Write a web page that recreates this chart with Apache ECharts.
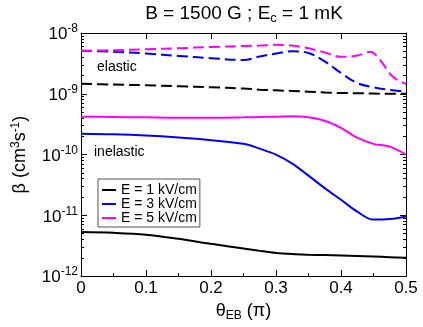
<!DOCTYPE html>
<html>
<head>
<meta charset="UTF-8">
<title>beta vs theta</title>
<script src="https://cdn.jsdelivr.net/npm/echarts@6/dist/echarts.min.js"></script>
<style>
  html, body { margin: 0; padding: 0; background: #fff; }
  #main { width: 423px; height: 327px; }
</style>
</head>
<body>
<div id="main"></div>
<script>
// theta_EB in units of pi
var theta = [0, 0.05, 0.1, 0.15, 0.2, 0.25, 0.275, 0.3, 0.325, 0.35, 0.375, 0.4, 0.425, 0.45, 0.475, 0.5];
var thetaEl5 = [0, 0.05, 0.1, 0.15, 0.2, 0.25, 0.275, 0.3, 0.325, 0.35, 0.375, 0.4, 0.425, 0.445, 0.46, 0.48, 0.5];

// elastic (dashed)
var elastic1 = [1.46e-9, 1.42e-9, 1.38e-9, 1.33e-9, 1.28e-9, 1.22e-9, 1.17e-9, 1.14e-9, 1.11e-9, 1.08e-9, 1.05e-9, 1.03e-9, 1.02e-9, 1.01e-9, 1.0e-9, 1.0e-9];
var elastic3 = [5.1e-9, 4.9e-9, 4.6e-9, 4.2e-9, 3.85e-9, 3.6e-9, 4.1e-9, 4.6e-9, 5.0e-9, 4.7e-9, 3.4e-9, 2.2e-9, 1.5e-9, 1.28e-9, 1.16e-9, 1.08e-9];
var elastic5 = [5.1e-9, 5.2e-9, 5.4e-9, 5.6e-9, 5.9e-9, 6.1e-9, 6.2e-9, 6.4e-9, 6.2e-9, 5.6e-9, 4.8e-9, 4.05e-9, 4.25e-9, 4.9e-9, 3.6e-9, 1.9e-9, 1.45e-9];

// inelastic (solid)
var inelastic1 = [5.3e-12, 5.15e-12, 4.8e-12, 4.1e-12, 3.4e-12, 2.85e-12, 2.6e-12, 2.4e-12, 2.3e-12, 2.25e-12, 2.22e-12, 2.18e-12, 2.14e-12, 2.1e-12, 2.05e-12, 2.0e-12];
var inelastic3 = [2.2e-10, 2.15e-10, 2.05e-10, 1.9e-10, 1.72e-10, 1.5e-10, 1.25e-10, 1.0e-10, 7.1e-11, 4.5e-11, 2.8e-11, 1.8e-11, 1.15e-11, 8.5e-12, 8.7e-12, 9.6e-12];
var inelastic5 = [4.2e-10, 4.15e-10, 4.1e-10, 4.05e-10, 4.05e-10, 4.1e-10, 4.15e-10, 4.2e-10, 4.25e-10, 4.1e-10, 3.6e-10, 2.75e-10, 1.9e-10, 1.5e-10, 1.35e-10, 1.0e-10];

var legendNames = ['E = 1 kV/cm', 'E = 3 kV/cm', 'E = 5 kV/cm'];
var colors = ['#000000', '#0000ff', '#ff00ff'];

function pairs(xs, ys) {
  var out = [];
  for (var i = 0; i < ys.length; i++) out.push([xs[i], ys[i]]);
  return out;
}

// minor ticks 2..9 inside each decade
var minorVals = [];
for (var d = -12; d < -8; d++) {
  for (var k = 2; k < 10; k++) minorVals.push(k * Math.pow(10, d));
}

var font = 'Liberation Sans, Arial, sans-serif';

function expLabel(v) {
  var e = Math.round(Math.log(v) / Math.LN10);
  return '{b|10}{e|' + e + '}';
}

function lineSeries(name, xs, ys, color, dashed) {
  return {
    name: name,
    type: 'line',
    xAxisIndex: 0,
    yAxisIndex: 0,
    data: pairs(xs, ys),
    smooth: 0.35,
    symbol: 'none',
    showSymbol: false,
    lineStyle: { color: color, width: 2, type: dashed ? [11, 5] : 'solid' },
    itemStyle: { color: color },
    z: dashed ? 3 : 4
  };
}

var myChart = echarts.init(document.getElementById('main'));
var logY = {
  type: 'log',
  logBase: 10,
  min: 1e-12,
  max: 1e-8,
  gridIndex: 0,
  splitLine: { show: false }
};

var option = {
  animation: false,
  textStyle: { fontFamily: font },
  grid: { left: 81, right: 17, top: 33, bottom: 50, containLabel: false },
  graphic: [
    {
      type: 'text', x: 244, y: 14,
      style: {
        text: '{n|B = 1500 G ; E}{s|c}{n| = 1 mK}',
        align: 'center', verticalAlign: 'middle',
        rich: {
          n: { fontSize: 19, fontFamily: font, fill: '#000', lineHeight: 22 },
          s: { fontSize: 13, fontFamily: font, fill: '#000', verticalAlign: 'bottom', lineHeight: 13, padding: [9, 0, 0, 0] }
        }
      }
    },
    { type: 'text', x: 97, y: 67, style: { text: 'elastic', fontSize: 14, fontFamily: font, fill: '#000', verticalAlign: 'middle' } },
    { type: 'text', x: 94, y: 152, style: { text: 'inelastic', fontSize: 14, fontFamily: font, fill: '#000', verticalAlign: 'middle' } }
  ],
  legend: {
    data: legendNames,
    orient: 'vertical',
    left: 98, top: 179,
    padding: [4, 3, 2, 4],
    itemGap: 0,
    itemWidth: 14,
    itemHeight: 13,
    borderColor: '#555', borderWidth: 1,
    icon: 'path://M0,6 L14,6 L14,8 L0,8 Z',
    textStyle: { fontSize: 14, fontFamily: font, color: '#000', lineHeight: 13 }
  },
  xAxis: [
    {
      type: 'value', position: 'bottom', min: 0, max: 0.5, interval: 0.1,
      name: '{t|θ}{s|EB}{t| (π)}', nameLocation: 'middle', nameGap: 17,
      nameTextStyle: {
        rich: {
          t: { fontSize: 18, fontFamily: font, color: '#000', lineHeight: 20 },
          s: { fontSize: 12, fontFamily: font, color: '#000', verticalAlign: 'bottom', padding: [10, 0, 0, 0] }
        }
      },
      axisLine: { lineStyle: { color: '#000', width: 1 } },
      axisTick: { inside: true, length: 6, lineStyle: { color: '#000' } },
      minorTick: { show: true, splitNumber: 2, length: 3, lineStyle: { color: '#000' } },
      axisLabel: { fontSize: 17, color: '#000', margin: 4, fontFamily: font, formatter: function (v) { return String(Math.round(v * 10) / 10); } },
      splitLine: { show: false }
    },
    {
      type: 'value', position: 'top', min: 0, max: 0.5, interval: 0.1,
      axisLine: { lineStyle: { color: '#000', width: 1 } },
      axisTick: { inside: true, length: 6, lineStyle: { color: '#000' } },
      axisLabel: { show: false },
      splitLine: { show: false }
    }
  ],
  yAxis: [
    Object.assign({}, logY, {
      position: 'left',
      name: 'β (cm{p|3}s{p|-1})', nameLocation: 'middle', nameGap: 50, nameRotate: 90,
      nameTextStyle: {
        fontSize: 18, color: '#000', fontFamily: font,
        rich: { p: { fontSize: 12, fontFamily: font, color: '#000', verticalAlign: 'top', padding: [0, 0, 9, 0] } }
      },
      axisLine: { lineStyle: { color: '#000', width: 1 } },
      axisTick: { inside: true, length: 6, lineStyle: { color: '#000' } },
      axisLabel: {
        margin: 3, color: '#000', formatter: expLabel,
        rich: {
          b: { fontSize: 17, fontFamily: font, color: '#000', lineHeight: 20, verticalAlign: 'bottom' },
          e: { fontSize: 12, fontFamily: font, color: '#000', verticalAlign: 'top', lineHeight: 12 }
        }
      }
    }),
    Object.assign({}, logY, {
      position: 'left',
      axisLine: { show: false },
      axisTick: { inside: true, length: 3, customValues: minorVals, lineStyle: { color: '#000' } },
      axisLabel: { show: false }
    }),
    Object.assign({}, logY, {
      position: 'right',
      axisLine: { show: true, lineStyle: { color: '#000', width: 1 } },
      axisTick: { inside: true, length: 6, lineStyle: { color: '#000' } },
      axisLabel: { show: false }
    }),
    Object.assign({}, logY, {
      position: 'right',
      axisLine: { show: false },
      axisTick: { inside: true, length: 3, customValues: minorVals, lineStyle: { color: '#000' } },
      axisLabel: { show: false }
    })
  ],
  series: [
    lineSeries('elastic E = 1 kV/cm', theta, elastic1, colors[0], true),
    lineSeries('elastic E = 3 kV/cm', theta, elastic3, colors[1], true),
    lineSeries('elastic E = 5 kV/cm', thetaEl5, elastic5, colors[2], true),
    lineSeries(legendNames[0], theta, inelastic1, colors[0], false),
    lineSeries(legendNames[1], theta, inelastic3, colors[1], false),
    lineSeries(legendNames[2], theta, inelastic5, colors[2], false)
  ]
};
myChart.setOption(option);
</script>
</body>
</html>
